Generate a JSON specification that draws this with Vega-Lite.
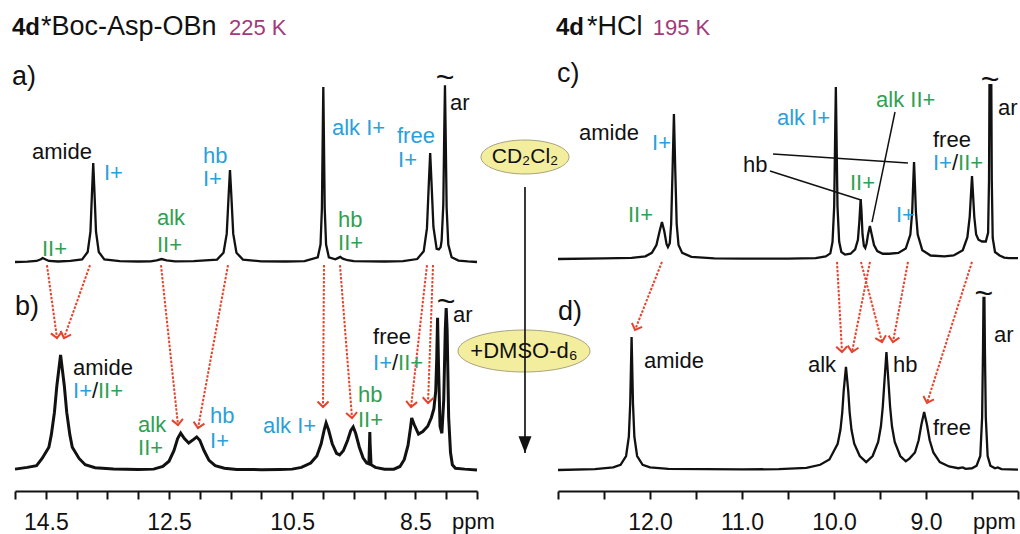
{
"$schema": "https://vega.github.io/schema/vega-lite/v6.json",
"width": 1020, "height": 491, "autosize": {"type": "none"}, "padding": {"left": 0, "top": 0, "right": 0, "bottom": 43}, "background": "white",
"config": {"view": {"stroke": null}, "text": {"font": "Liberation Sans"}, "axis": {"labelFont": "Liberation Sans"}},
"datasets": {
"specA": [{"ppm":15.0,"I":0},{"ppm":14.8,"I":0.2},{"ppm":14.65,"I":0.6},{"ppm":14.58,"I":1.6},{"ppm":14.55,"I":2.3},{"ppm":14.51,"I":1.6},{"ppm":14.45,"I":0.6},{"ppm":14.3,"I":0.3},{"ppm":14.1,"I":0.6},{"ppm":13.91,"I":1.5},{"ppm":13.82,"I":5.7},{"ppm":13.775,"I":17.4},{"ppm":13.748,"I":41.6},{"ppm":13.73,"I":56.6},{"ppm":13.712,"I":41.6},{"ppm":13.685,"I":17.4},{"ppm":13.64,"I":5.7},{"ppm":13.55,"I":1.5},{"ppm":13.3,"I":0.5},{"ppm":13.0,"I":0.3},{"ppm":12.8,"I":0.4},{"ppm":12.7,"I":0.9},{"ppm":12.62,"I":1.7},{"ppm":12.54,"I":0.9},{"ppm":12.4,"I":0.4},{"ppm":12.1,"I":0.5},{"ppm":11.72,"I":1.4},{"ppm":11.615,"I":5.3},{"ppm":11.5625,"I":16.2},{"ppm":11.531,"I":38.7},{"ppm":11.51,"I":52.6},{"ppm":11.489,"I":38.7},{"ppm":11.4575,"I":16.2},{"ppm":11.405,"I":5.3},{"ppm":11.3,"I":1.4},{"ppm":11.0,"I":0.4},{"ppm":10.6,"I":0.3},{"ppm":10.3,"I":0.5},{"ppm":10.085,"I":2.7},{"ppm":10.04,"I":10},{"ppm":10.0175,"I":30.8},{"ppm":10.004,"I":73.5},{"ppm":9.995,"I":100},{"ppm":9.986,"I":73.5},{"ppm":9.9725,"I":30.8},{"ppm":9.95,"I":10},{"ppm":9.905,"I":2.7},{"ppm":9.8,"I":1.5},{"ppm":9.76,"I":2.2},{"ppm":9.72,"I":2.9},{"ppm":9.68,"I":1.9},{"ppm":9.6,"I":1.0},{"ppm":9.5,"I":0.5},{"ppm":9.0,"I":0.3},{"ppm":8.7,"I":0.5},{"ppm":8.47,"I":1.7},{"ppm":8.365,"I":6.2},{"ppm":8.3125,"I":19.2},{"ppm":8.281,"I":45.8},{"ppm":8.26,"I":62.3},{"ppm":8.239,"I":45.8},{"ppm":8.2075,"I":20},{"ppm":8.155,"I":7.5},{"ppm":8.12,"I":7.2},{"ppm":8.09,"I":8.5},{"ppm":8.074,"I":12.3},{"ppm":8.047,"I":32.8},{"ppm":8.031,"I":75.6},{"ppm":8.02,"I":101},{"ppm":8.009,"I":74},{"ppm":7.993,"I":31},{"ppm":7.966,"I":10},{"ppm":7.912,"I":2.7},{"ppm":7.8,"I":0.8},{"ppm":7.65,"I":0.3},{"ppm":7.5,"I":0}],
"specB": [{"ppm":15.0,"I":0.5},{"ppm":14.8,"I":1.5},{"ppm":14.65,"I":2.5},{"ppm":14.56,"I":6.6},{"ppm":14.45,"I":13},{"ppm":14.41,"I":20.2},{"ppm":14.36,"I":32.9},{"ppm":14.32,"I":48.3},{"ppm":14.26,"I":65.7},{"ppm":14.2,"I":48.3},{"ppm":14.16,"I":32.9},{"ppm":14.11,"I":20.2},{"ppm":14.07,"I":13},{"ppm":13.96,"I":6.6},{"ppm":13.86,"I":3},{"ppm":13.7,"I":1.3},{"ppm":13.4,"I":0.6},{"ppm":13.0,"I":0.3},{"ppm":12.75,"I":0.5},{"ppm":12.6,"I":2},{"ppm":12.5,"I":5},{"ppm":12.42,"I":11},{"ppm":12.36,"I":18},{"ppm":12.31,"I":21.1},{"ppm":12.25,"I":18},{"ppm":12.18,"I":15.4},{"ppm":12.1,"I":17.5},{"ppm":12.05,"I":18.9},{"ppm":12.0,"I":17},{"ppm":11.93,"I":11},{"ppm":11.85,"I":5.5},{"ppm":11.75,"I":2.5},{"ppm":11.6,"I":1},{"ppm":11.4,"I":0.3},{"ppm":11.0,"I":0.2},{"ppm":10.7,"I":0.3},{"ppm":10.5,"I":0.5},{"ppm":10.35,"I":1.5},{"ppm":10.2,"I":4},{"ppm":10.1,"I":8},{"ppm":10.03,"I":15},{"ppm":9.98,"I":23},{"ppm":9.95,"I":26.9},{"ppm":9.91,"I":23},{"ppm":9.85,"I":15},{"ppm":9.78,"I":9.5},{"ppm":9.73,"I":8.6},{"ppm":9.67,"I":11},{"ppm":9.6,"I":17},{"ppm":9.55,"I":22.5},{"ppm":9.51,"I":24.6},{"ppm":9.47,"I":21},{"ppm":9.41,"I":13},{"ppm":9.35,"I":7},{"ppm":9.29,"I":4},{"ppm":9.255,"I":3.5},{"ppm":9.245,"I":15},{"ppm":9.24,"I":21.7},{"ppm":9.235,"I":15},{"ppm":9.22,"I":3},{"ppm":9.15,"I":1.5},{"ppm":9.0,"I":0.5},{"ppm":8.85,"I":0.5},{"ppm":8.75,"I":2},{"ppm":8.68,"I":6},{"ppm":8.62,"I":14},{"ppm":8.58,"I":24},{"ppm":8.56,"I":29.7},{"ppm":8.52,"I":26},{"ppm":8.45,"I":20.5},{"ppm":8.38,"I":22},{"ppm":8.3,"I":25},{"ppm":8.24,"I":30},{"ppm":8.2,"I":35},{"ppm":8.17,"I":45},{"ppm":8.155,"I":62},{"ppm":8.14,"I":87},{"ppm":8.125,"I":60},{"ppm":8.1,"I":25},{"ppm":8.07,"I":21},{"ppm":8.04,"I":40},{"ppm":8.015,"I":80},{"ppm":8.0,"I":92.6},{"ppm":7.985,"I":80},{"ppm":7.96,"I":30},{"ppm":7.93,"I":10},{"ppm":7.9,"I":3},{"ppm":7.85,"I":1},{"ppm":7.7,"I":0.5},{"ppm":7.5,"I":0}],
"specC": [{"ppm":13.0,"I":0},{"ppm":12.5,"I":0.3},{"ppm":12.2,"I":0.6},{"ppm":12.05,"I":1.5},{"ppm":11.98,"I":3.5},{"ppm":11.93,"I":8},{"ppm":11.895,"I":16},{"ppm":11.87,"I":21.1},{"ppm":11.845,"I":16},{"ppm":11.82,"I":8.5},{"ppm":11.805,"I":6.8},{"ppm":11.785,"I":9},{"ppm":11.77,"I":20},{"ppm":11.755,"I":50},{"ppm":11.74,"I":82.9},{"ppm":11.725,"I":50},{"ppm":11.71,"I":20},{"ppm":11.69,"I":8},{"ppm":11.65,"I":3.5},{"ppm":11.55,"I":1.2},{"ppm":11.3,"I":0.4},{"ppm":11.0,"I":0.2},{"ppm":10.5,"I":0.2},{"ppm":10.2,"I":0.5},{"ppm":10.09,"I":1.5},{"ppm":10.04,"I":3.2},{"ppm":10.016,"I":9.8},{"ppm":9.998,"I":30},{"ppm":9.987,"I":72},{"ppm":9.98,"I":98.3},{"ppm":9.973,"I":72},{"ppm":9.962,"I":30},{"ppm":9.944,"I":10},{"ppm":9.92,"I":4},{"ppm":9.88,"I":2.5},{"ppm":9.82,"I":3},{"ppm":9.77,"I":5.5},{"ppm":9.74,"I":11},{"ppm":9.725,"I":21},{"ppm":9.715,"I":30},{"ppm":9.71,"I":34.3},{"ppm":9.702,"I":28},{"ppm":9.69,"I":14},{"ppm":9.675,"I":7.5},{"ppm":9.66,"I":6.3},{"ppm":9.645,"I":9},{"ppm":9.63,"I":14},{"ppm":9.61,"I":18.9},{"ppm":9.59,"I":14},{"ppm":9.565,"I":8},{"ppm":9.53,"I":4.5},{"ppm":9.47,"I":3},{"ppm":9.4,"I":3},{"ppm":9.3,"I":3.5},{"ppm":9.22,"I":6},{"ppm":9.17,"I":14},{"ppm":9.15,"I":27},{"ppm":9.14,"I":42},{"ppm":9.13,"I":55.4},{"ppm":9.12,"I":42},{"ppm":9.11,"I":27},{"ppm":9.09,"I":14},{"ppm":9.04,"I":5},{"ppm":8.95,"I":2},{"ppm":8.8,"I":1.5},{"ppm":8.7,"I":2},{"ppm":8.6,"I":5},{"ppm":8.55,"I":12.5},{"ppm":8.525,"I":24},{"ppm":8.51,"I":38},{"ppm":8.5,"I":47.4},{"ppm":8.49,"I":38},{"ppm":8.475,"I":24},{"ppm":8.455,"I":14},{"ppm":8.43,"I":11},{"ppm":8.39,"I":10},{"ppm":8.35,"I":10},{"ppm":8.325,"I":15},{"ppm":8.315,"I":45},{"ppm":8.31,"I":99.4},{"ppm":8.29,"I":99.4},{"ppm":8.285,"I":45},{"ppm":8.275,"I":12},{"ppm":8.25,"I":4},{"ppm":8.2,"I":2},{"ppm":8.15,"I":0.8},{"ppm":8.1,"I":0.5},{"ppm":8.0,"I":0.5}],
"specD": [{"ppm":13.0,"I":0},{"ppm":12.6,"I":0.5},{"ppm":12.4,"I":1.5},{"ppm":12.32,"I":3},{"ppm":12.26,"I":8},{"ppm":12.23,"I":19},{"ppm":12.215,"I":38},{"ppm":12.2,"I":76},{"ppm":12.185,"I":38},{"ppm":12.17,"I":19},{"ppm":12.14,"I":8},{"ppm":12.08,"I":3},{"ppm":12.0,"I":1.5},{"ppm":11.8,"I":0.6},{"ppm":11.0,"I":0.3},{"ppm":10.6,"I":0.5},{"ppm":10.3,"I":1.2},{"ppm":10.15,"I":3},{"ppm":10.05,"I":6},{"ppm":9.96,"I":15},{"ppm":9.93,"I":23},{"ppm":9.91,"I":33},{"ppm":9.895,"I":45},{"ppm":9.87,"I":58.9},{"ppm":9.845,"I":45},{"ppm":9.83,"I":33},{"ppm":9.81,"I":23},{"ppm":9.78,"I":15},{"ppm":9.72,"I":8},{"ppm":9.65,"I":4.5},{"ppm":9.58,"I":8},{"ppm":9.52,"I":16},{"ppm":9.49,"I":25},{"ppm":9.47,"I":36},{"ppm":9.45,"I":52},{"ppm":9.43,"I":67.4},{"ppm":9.41,"I":52},{"ppm":9.39,"I":36},{"ppm":9.37,"I":25},{"ppm":9.34,"I":16},{"ppm":9.28,"I":8},{"ppm":9.22,"I":5},{"ppm":9.18,"I":6.5},{"ppm":9.12,"I":10},{"ppm":9.08,"I":17},{"ppm":9.05,"I":26},{"ppm":9.02,"I":33.1},{"ppm":8.99,"I":26},{"ppm":8.96,"I":17},{"ppm":8.92,"I":10},{"ppm":8.85,"I":4.5},{"ppm":8.75,"I":2},{"ppm":8.65,"I":1},{"ppm":8.6,"I":1.5},{"ppm":8.57,"I":0.7},{"ppm":8.5,"I":1},{"ppm":8.45,"I":2.5},{"ppm":8.41,"I":8},{"ppm":8.39,"I":30},{"ppm":8.38,"I":70},{"ppm":8.375,"I":98.3},{"ppm":8.365,"I":98.3},{"ppm":8.36,"I":70},{"ppm":8.35,"I":30},{"ppm":8.33,"I":8},{"ppm":8.3,"I":2.5},{"ppm":8.25,"I":1},{"ppm":8.22,"I":1.5},{"ppm":8.18,"I":0.5},{"ppm":8.0,"I":0.2}],
"labels": [
{"g":"A","role":"bold","cat":"n","text":"4d","ppm":15.049,"I":129.7},
{"g":"A","role":"head","cat":"n","text":"*Boc-Asp-OBn","ppm":14.578,"I":129.7},
{"g":"A","role":"label","cat":"T","text":"225 K","ppm":11.526,"I":129.7},
{"g":"A","role":"panel","cat":"n","text":"a)","ppm":15.049,"I":101.1},
{"g":"A","role":"label","cat":"n","text":"amide","ppm":14.724,"I":58.9},
{"g":"A","role":"label","cat":"I","text":"I+","ppm":13.555,"I":46.9},
{"g":"A","role":"label","cat":"II","text":"II+","ppm":14.562,"I":3.4},
{"g":"A","role":"label","cat":"II","text":"alk","ppm":12.695,"I":21.1},
{"g":"A","role":"label","cat":"II","text":"II+","ppm":12.695,"I":5.7},
{"g":"A","role":"label","cat":"I","text":"hb","ppm":11.948,"I":56.6},
{"g":"A","role":"label","cat":"I","text":"I+","ppm":11.948,"I":43.4},
{"g":"A","role":"label","cat":"I","text":"alk I+","ppm":9.854,"I":72.6},
{"g":"A","role":"label","cat":"I","text":"free","ppm":8.799,"I":68},
{"g":"A","role":"label","cat":"I","text":"I+","ppm":8.782,"I":54.3},
{"g":"A","role":"label","cat":"II","text":"hb","ppm":9.756,"I":20},
{"g":"A","role":"label","cat":"II","text":"II+","ppm":9.756,"I":6.9},
{"g":"A","role":"label","cat":"n","text":"ar","ppm":7.938,"I":86.9},
{"g":"A","role":"tilde","cat":"n","text":"~","ppm":8.019,"I":105.1},
{"g":"B","role":"panel","cat":"n","text":"b)","ppm":15.0,"I":88.6},
{"g":"B","role":"label","cat":"n","text":"amide","ppm":14.058,"I":54.3},
{"g":"B","role":"label","cat":"I","text":"I+","ppm":14.058,"I":41.1},
{"g":"B","role":"label","cat":"n","text":"/","ppm":13.75,"I":41.1},
{"g":"B","role":"label","cat":"II","text":"II+","ppm":13.653,"I":41.1},
{"g":"B","role":"label","cat":"II","text":"alk","ppm":13.003,"I":21.7},
{"g":"B","role":"label","cat":"II","text":"II+","ppm":13.003,"I":8.6},
{"g":"B","role":"label","cat":"I","text":"hb","ppm":11.834,"I":27},
{"g":"B","role":"label","cat":"I","text":"I+","ppm":11.834,"I":12.6},
{"g":"B","role":"label","cat":"I","text":"alk I+","ppm":10.974,"I":21.1},
{"g":"B","role":"label","cat":"II","text":"hb","ppm":9.432,"I":38.9},
{"g":"B","role":"label","cat":"II","text":"II+","ppm":9.432,"I":24.6},
{"g":"B","role":"label","cat":"n","text":"free","ppm":9.188,"I":72},
{"g":"B","role":"label","cat":"I","text":"I+","ppm":9.188,"I":57.1},
{"g":"B","role":"label","cat":"n","text":"/","ppm":8.88,"I":57.1},
{"g":"B","role":"label","cat":"II","text":"II+","ppm":8.782,"I":57.1},
{"g":"B","role":"label","cat":"n","text":"ar","ppm":7.89,"I":84.6},
{"g":"B","role":"tilde","cat":"n","text":"~","ppm":8.003,"I":96},
{"g":"B","role":"label","cat":"n","text":"ppm","ppm":7.906,"I":-33.7},
{"g":"C","role":"bold","cat":"n","text":"4d","ppm":13.022,"I":128},
{"g":"C","role":"head","cat":"n","text":"*HCl","ppm":12.685,"I":128},
{"g":"C","role":"label","cat":"T","text":"195 K","ppm":11.97,"I":128},
{"g":"C","role":"panel","cat":"n","text":"c)","ppm":13.011,"I":101.1},
{"g":"C","role":"label","cat":"n","text":"amide","ppm":12.772,"I":68},
{"g":"C","role":"label","cat":"I","text":"I+","ppm":11.978,"I":62.3},
{"g":"C","role":"label","cat":"II","text":"II+","ppm":12.239,"I":21.1},
{"g":"C","role":"label","cat":"I","text":"alk I+","ppm":10.62,"I":76.6},
{"g":"C","role":"label","cat":"II","text":"alk II+","ppm":9.543,"I":86.9},
{"g":"C","role":"label","cat":"n","text":"hb","ppm":10.989,"I":49.7},
{"g":"C","role":"label","cat":"II","text":"II+","ppm":9.826,"I":39.4},
{"g":"C","role":"label","cat":"I","text":"I+","ppm":9.326,"I":21.1},
{"g":"C","role":"label","cat":"n","text":"free","ppm":8.924,"I":64},
{"g":"C","role":"label","cat":"I","text":"I+","ppm":8.924,"I":50.9},
{"g":"C","role":"label","cat":"n","text":"/","ppm":8.717,"I":50.9},
{"g":"C","role":"label","cat":"II","text":"II+","ppm":8.652,"I":50.9},
{"g":"C","role":"label","cat":"n","text":"ar","ppm":8.217,"I":82.3},
{"g":"C","role":"tilde","cat":"n","text":"~","ppm":8.304,"I":102.3},
{"g":"D","role":"panel","cat":"n","text":"d)","ppm":13.0,"I":85.7},
{"g":"D","role":"label","cat":"n","text":"amide","ppm":12.065,"I":58.3},
{"g":"D","role":"label","cat":"n","text":"alk","ppm":10.283,"I":56},
{"g":"D","role":"label","cat":"n","text":"hb","ppm":9.359,"I":56},
{"g":"D","role":"label","cat":"n","text":"free","ppm":8.924,"I":20},
{"g":"D","role":"label","cat":"n","text":"ar","ppm":8.261,"I":73.1},
{"g":"D","role":"tilde","cat":"n","text":"~","ppm":8.37,"I":100.6},
{"g":"D","role":"label","cat":"n","text":"ppm","ppm":8.489,"I":-33.7}
],
"arrows": [
{"g":"B","ppm":14.481,"I":117.1,"ppm2":14.318,"I2":75.4},
{"g":"B","ppm":13.782,"I":117.1,"ppm2":14.205,"I2":75.4},
{"g":"B","ppm":12.63,"I":117.1,"ppm2":12.354,"I2":25.7},
{"g":"B","ppm":11.542,"I":117.1,"ppm2":12.029,"I2":24.0},
{"g":"B","ppm":9.984,"I":117.1,"ppm2":10.0,"I2":36.0},
{"g":"B","ppm":9.724,"I":117.1,"ppm2":9.529,"I2":29.7},
{"g":"B","ppm":8.312,"I":117.1,"ppm2":8.571,"I2":36.0},
{"g":"B","ppm":8.214,"I":117.1,"ppm2":8.295,"I2":38.3},
{"g":"D","ppm":11.87,"I":118.9,"ppm2":12.163,"I2":80},
{"g":"D","ppm":9.967,"I":118.9,"ppm2":9.913,"I2":67.4},
{"g":"D","ppm":9.609,"I":118.9,"ppm2":9.804,"I2":67.4},
{"g":"D","ppm":9.707,"I":118.9,"ppm2":9.478,"I2":73.1},
{"g":"D","ppm":9.196,"I":118.9,"ppm2":9.359,"I2":73.1},
{"g":"D","ppm":8.5,"I":118.9,"ppm2":8.989,"I2":38.3}
],
"connectors": [
{"ppm":10.663,"I":60,"ppm2":9.196,"I2":54.9},
{"ppm":10.696,"I":50.3,"ppm2":9.707,"I2":33.7},
{"ppm":9.337,"I":84,"ppm2":9.587,"I2":21.1}
],
"solvents": [
{"g":"A","ppm":6.721,"I":60,"text":"CD₂Cl₂"},
{"g":"B","ppm":6.737,"I":68,"text":"+DMSO-d₆"}
],
"process": [{"ppm":6.721,"I":161.7,"I2":9.7}]
},
"resolve": {"scale": {"x": "independent", "y": "independent"}, "axis": {"x": "independent", "y": "independent"}},
"layer": [
{
"encoding": {
"x": {"field": "ppm", "type": "quantitative", "scale": {"domain": [15, 7.5], "range": [15, 477], "zero": false, "nice": false}, "axis": null},
"y": {"field": "I", "type": "quantitative", "scale": {"domain": [0, 100], "range": [262, 87], "zero": false, "nice": false}, "axis": null}
},
"layer": [
{"data": {"name": "specA"}, "mark": {"type": "line", "color": "#111111", "strokeWidth": 2.3}},
{"data": {"name": "solvents"}, "transform": [{"filter": "datum.g == 'A'"}], "mark": {"type": "point", "shape": "M-1,0A1,0.386,0,1,1,1,0A1,0.386,0,1,1,-1,0Z", "size": 7744, "filled": true, "fill": "#f3ee9e", "stroke": "#a9a27e", "strokeWidth": 1, "opacity": 1}},
{"data": {"name": "solvents"}, "transform": [{"filter": "datum.g == 'A'"}], "mark": {"type": "text", "font": "Liberation Sans", "fontSize": 21, "align": "center", "baseline": "middle", "color": "#111111"}, "encoding": {"text": {"field": "text"}}},
{"data": {"name": "labels"}, "transform": [{"filter": "datum.g == 'A' && datum.role == 'label'"}], "mark": {"type": "text", "font": "Liberation Sans", "fontSize": 22, "align": "left", "baseline": "alphabetic"}, "encoding": {"text": {"field": "text"}, "color": {"field": "cat", "type": "nominal", "scale": {"domain": ["I", "II", "n", "T"], "range": ["#2b9fd9", "#2f9f50", "#111111", "#a2397a"]}, "legend": null}}},
{"data": {"name": "labels"}, "transform": [{"filter": "datum.g == 'A' && datum.role == 'head'"}], "mark": {"type": "text", "font": "Liberation Sans", "fontSize": 27, "align": "left", "baseline": "alphabetic", "color": "#111111"}, "encoding": {"text": {"field": "text"}}},
{"data": {"name": "labels"}, "transform": [{"filter": "datum.g == 'A' && datum.role == 'panel'"}], "mark": {"type": "text", "font": "Liberation Sans", "fontSize": 27, "align": "left", "baseline": "alphabetic", "color": "#111111"}, "encoding": {"text": {"field": "text"}}},
{"data": {"name": "labels"}, "transform": [{"filter": "datum.g == 'A' && datum.role == 'bold'"}], "mark": {"type": "text", "font": "Liberation Sans", "fontSize": 24, "fontWeight": "bold", "align": "left", "baseline": "alphabetic", "color": "#111111"}, "encoding": {"text": {"field": "text"}}},
{"data": {"name": "labels"}, "transform": [{"filter": "datum.g == 'A' && datum.role == 'tilde'"}], "mark": {"type": "text", "font": "Liberation Sans", "fontSize": 32, "align": "center", "baseline": "middle", "color": "#111111"}, "encoding": {"text": {"field": "text"}}}
]
},
{
"encoding": {
"x": {"field": "ppm", "type": "quantitative", "scale": {"domain": [15, 7.5], "range": [15, 477], "zero": false, "nice": false},
 "axis": {"orient": "bottom", "offset": 0, "values": [15, 14.5, 14, 13.5, 13, 12.5, 12, 11.5, 11, 10.5, 10, 9.5, 9, 8.5, 8, 7.5], "labelExpr": "indexof([14.5, 12.5, 10.5, 8.5], datum.value) >= 0 ? format(datum.value, '.1f') : ''", "title": null, "grid": false, "domainColor": "#111111", "domainWidth": 2, "tickColor": "#111111", "tickWidth": 2, "tickSize": 8, "labelFont": "Liberation Sans", "labelFontSize": 23, "labelColor": "#111111", "labelPadding": 30, "labelBaseline": "alphabetic", "labelFlush": false, "labelOverlap": false, "labelBound": false}},
"y": {"field": "I", "type": "quantitative", "scale": {"domain": [0, 100], "range": [470, 295], "zero": false, "nice": false}, "axis": null}
},
"layer": [
{"data": {"name": "specB"}, "mark": {"type": "line", "color": "#111111", "strokeWidth": 3}},
{"data": {"name": "arrows"}, "transform": [{"filter": "datum.g == 'B'"}], "mark": {"type": "rule", "color": "#e5432d", "strokeWidth": 2, "strokeDash": [2.5, 1.5]}, "encoding": {"x2": {"field": "ppm2"}, "y2": {"field": "I2"}}},
{"data": {"name": "arrows"}, "transform": [{"filter": "datum.g == 'B'"}, {"calculate": "atan2((datum.ppm2 - datum.ppm) * 61.6, (datum.I - datum.I2) * 1.75) * 180 / PI", "as": "tilt"}], "mark": {"type": "point", "shape": "M-1,-1L0,0L1,-1", "size": 121, "filled": false, "stroke": "#e5432d", "strokeWidth": 2, "opacity": 1},
 "encoding": {"x": {"field": "ppm2", "type": "quantitative", "scale": {"domain": [15, 7.5], "range": [15, 477], "zero": false, "nice": false},
  "axis": {"orient": "bottom", "offset": 0, "values": [15, 14.5, 14, 13.5, 13, 12.5, 12, 11.5, 11, 10.5, 10, 9.5, 9, 8.5, 8, 7.5], "labelExpr": "indexof([14.5, 12.5, 10.5, 8.5], datum.value) >= 0 ? format(datum.value, '.1f') : ''", "title": null, "grid": false, "domainColor": "#111111", "domainWidth": 2, "tickColor": "#111111", "tickWidth": 2, "tickSize": 8, "labelFont": "Liberation Sans", "labelFontSize": 23, "labelColor": "#111111", "labelPadding": 30, "labelBaseline": "alphabetic", "labelFlush": false, "labelOverlap": false, "labelBound": false}},
  "y": {"field": "I2", "type": "quantitative", "scale": {"domain": [0, 100], "range": [470, 295], "zero": false, "nice": false}, "axis": null},
  "angle": {"field": "tilt", "type": "quantitative", "scale": null}}},
{"data": {"name": "solvents"}, "transform": [{"filter": "datum.g == 'B'"}], "mark": {"type": "point", "shape": "M-1,0A1,0.318,0,1,1,1,0A1,0.318,0,1,1,-1,0Z", "size": 17424, "filled": true, "fill": "#f3ee9e", "stroke": "#a9a27e", "strokeWidth": 1, "opacity": 1}},
{"data": {"name": "process"}, "mark": {"type": "rule", "color": "#222222", "strokeWidth": 1.8}, "encoding": {"y2": {"field": "I2"}}},
{"data": {"name": "process"}, "mark": {"type": "point", "shape": "M-1,-2.6L1,-2.6L0,0Z", "size": 169, "filled": true, "color": "#111111", "opacity": 1},
 "encoding": {"y": {"field": "I2", "type": "quantitative", "scale": {"domain": [0, 100], "range": [470, 295], "zero": false, "nice": false}, "axis": null}}},
{"data": {"name": "solvents"}, "transform": [{"filter": "datum.g == 'B'"}], "mark": {"type": "text", "font": "Liberation Sans", "fontSize": 22, "align": "center", "baseline": "middle", "color": "#111111"}, "encoding": {"text": {"field": "text"}}},
{"data": {"name": "labels"}, "transform": [{"filter": "datum.g == 'B' && datum.role == 'label'"}], "mark": {"type": "text", "font": "Liberation Sans", "fontSize": 22, "align": "left", "baseline": "alphabetic"}, "encoding": {"text": {"field": "text"}, "color": {"field": "cat", "type": "nominal", "scale": {"domain": ["I", "II", "n", "T"], "range": ["#2b9fd9", "#2f9f50", "#111111", "#a2397a"]}, "legend": null}}},
{"data": {"name": "labels"}, "transform": [{"filter": "datum.g == 'B' && datum.role == 'panel'"}], "mark": {"type": "text", "font": "Liberation Sans", "fontSize": 27, "align": "left", "baseline": "alphabetic", "color": "#111111"}, "encoding": {"text": {"field": "text"}}},
{"data": {"name": "labels"}, "transform": [{"filter": "datum.g == 'B' && datum.role == 'tilde'"}], "mark": {"type": "text", "font": "Liberation Sans", "fontSize": 32, "align": "center", "baseline": "middle", "color": "#111111"}, "encoding": {"text": {"field": "text"}}}
]
},
{
"encoding": {
"x": {"field": "ppm", "type": "quantitative", "scale": {"domain": [13, 8], "range": [558, 1018], "zero": false, "nice": false}, "axis": null},
"y": {"field": "I", "type": "quantitative", "scale": {"domain": [0, 100], "range": [259, 84], "zero": false, "nice": false}, "axis": null}
},
"layer": [
{"data": {"name": "specC"}, "mark": {"type": "line", "color": "#111111", "strokeWidth": 2.3}},
{"data": {"name": "connectors"}, "mark": {"type": "rule", "color": "#111111", "strokeWidth": 1.5}, "encoding": {"x2": {"field": "ppm2"}, "y2": {"field": "I2"}}},
{"data": {"name": "labels"}, "transform": [{"filter": "datum.g == 'C' && datum.role == 'label'"}], "mark": {"type": "text", "font": "Liberation Sans", "fontSize": 22, "align": "left", "baseline": "alphabetic"}, "encoding": {"text": {"field": "text"}, "color": {"field": "cat", "type": "nominal", "scale": {"domain": ["I", "II", "n", "T"], "range": ["#2b9fd9", "#2f9f50", "#111111", "#a2397a"]}, "legend": null}}},
{"data": {"name": "labels"}, "transform": [{"filter": "datum.g == 'C' && datum.role == 'head'"}], "mark": {"type": "text", "font": "Liberation Sans", "fontSize": 27, "align": "left", "baseline": "alphabetic", "color": "#111111"}, "encoding": {"text": {"field": "text"}}},
{"data": {"name": "labels"}, "transform": [{"filter": "datum.g == 'C' && datum.role == 'panel'"}], "mark": {"type": "text", "font": "Liberation Sans", "fontSize": 27, "align": "left", "baseline": "alphabetic", "color": "#111111"}, "encoding": {"text": {"field": "text"}}},
{"data": {"name": "labels"}, "transform": [{"filter": "datum.g == 'C' && datum.role == 'bold'"}], "mark": {"type": "text", "font": "Liberation Sans", "fontSize": 24, "fontWeight": "bold", "align": "left", "baseline": "alphabetic", "color": "#111111"}, "encoding": {"text": {"field": "text"}}},
{"data": {"name": "labels"}, "transform": [{"filter": "datum.g == 'C' && datum.role == 'tilde'"}], "mark": {"type": "text", "font": "Liberation Sans", "fontSize": 32, "align": "center", "baseline": "middle", "color": "#111111"}, "encoding": {"text": {"field": "text"}}}
]
},
{
"encoding": {
"x": {"field": "ppm", "type": "quantitative", "scale": {"domain": [13, 8], "range": [558, 1018], "zero": false, "nice": false},
 "axis": {"orient": "bottom", "offset": 0, "values": [13, 12.5, 12, 11.5, 11, 10.5, 10, 9.5, 9, 8.5, 8], "labelExpr": "indexof([12, 11, 10, 9], datum.value) >= 0 ? format(datum.value, '.1f') : ''", "title": null, "grid": false, "domainColor": "#111111", "domainWidth": 2, "tickColor": "#111111", "tickWidth": 2, "tickSize": 8, "labelFont": "Liberation Sans", "labelFontSize": 23, "labelColor": "#111111", "labelPadding": 30, "labelBaseline": "alphabetic", "labelFlush": false, "labelOverlap": false, "labelBound": false}},
"y": {"field": "I", "type": "quantitative", "scale": {"domain": [0, 100], "range": [470, 295], "zero": false, "nice": false}, "axis": null}
},
"layer": [
{"data": {"name": "specD"}, "mark": {"type": "line", "color": "#111111", "strokeWidth": 2.3}},
{"data": {"name": "arrows"}, "transform": [{"filter": "datum.g == 'D'"}], "mark": {"type": "rule", "color": "#e5432d", "strokeWidth": 2, "strokeDash": [2.5, 1.5]}, "encoding": {"x2": {"field": "ppm2"}, "y2": {"field": "I2"}}},
{"data": {"name": "arrows"}, "transform": [{"filter": "datum.g == 'D'"}, {"calculate": "atan2((datum.ppm2 - datum.ppm) * 92, (datum.I - datum.I2) * 1.75) * 180 / PI", "as": "tilt"}], "mark": {"type": "point", "shape": "M-1,-1L0,0L1,-1", "size": 121, "filled": false, "stroke": "#e5432d", "strokeWidth": 2, "opacity": 1},
 "encoding": {"x": {"field": "ppm2", "type": "quantitative", "scale": {"domain": [13, 8], "range": [558, 1018], "zero": false, "nice": false},
  "axis": {"orient": "bottom", "offset": 0, "values": [13, 12.5, 12, 11.5, 11, 10.5, 10, 9.5, 9, 8.5, 8], "labelExpr": "indexof([12, 11, 10, 9], datum.value) >= 0 ? format(datum.value, '.1f') : ''", "title": null, "grid": false, "domainColor": "#111111", "domainWidth": 2, "tickColor": "#111111", "tickWidth": 2, "tickSize": 8, "labelFont": "Liberation Sans", "labelFontSize": 23, "labelColor": "#111111", "labelPadding": 30, "labelBaseline": "alphabetic", "labelFlush": false, "labelOverlap": false, "labelBound": false}},
  "y": {"field": "I2", "type": "quantitative", "scale": {"domain": [0, 100], "range": [470, 295], "zero": false, "nice": false}, "axis": null},
  "angle": {"field": "tilt", "type": "quantitative", "scale": null}}},
{"data": {"name": "labels"}, "transform": [{"filter": "datum.g == 'D' && datum.role == 'label'"}], "mark": {"type": "text", "font": "Liberation Sans", "fontSize": 22, "align": "left", "baseline": "alphabetic"}, "encoding": {"text": {"field": "text"}, "color": {"field": "cat", "type": "nominal", "scale": {"domain": ["I", "II", "n", "T"], "range": ["#2b9fd9", "#2f9f50", "#111111", "#a2397a"]}, "legend": null}}},
{"data": {"name": "labels"}, "transform": [{"filter": "datum.g == 'D' && datum.role == 'panel'"}], "mark": {"type": "text", "font": "Liberation Sans", "fontSize": 27, "align": "left", "baseline": "alphabetic", "color": "#111111"}, "encoding": {"text": {"field": "text"}}},
{"data": {"name": "labels"}, "transform": [{"filter": "datum.g == 'D' && datum.role == 'tilde'"}], "mark": {"type": "text", "font": "Liberation Sans", "fontSize": 32, "align": "center", "baseline": "middle", "color": "#111111"}, "encoding": {"text": {"field": "text"}}}
]
}
]
}
